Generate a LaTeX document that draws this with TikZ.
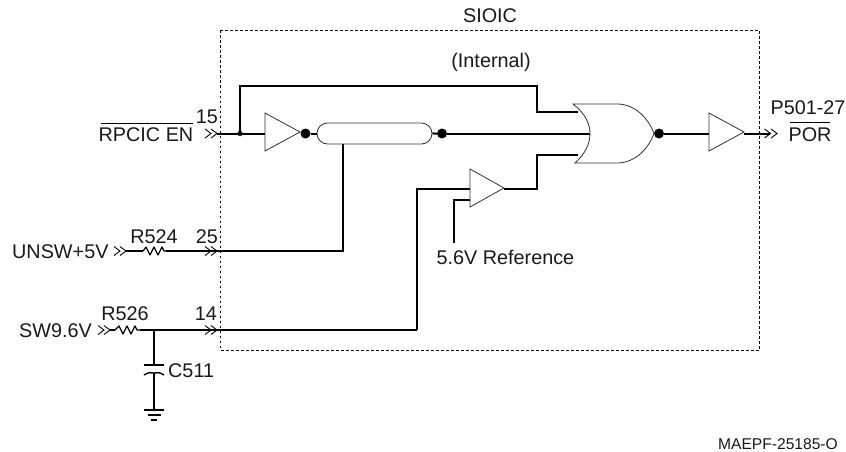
\documentclass[tikz,border=0pt]{standalone}
\usepackage{fontspec}
\setmainfont{Liberation Sans}
\usetikzlibrary{shapes.misc}
\tikzset{
  x=1pt,y=-1pt,
  wire/.style={line width=2pt,line join=miter},
  thin gate/.style={line width=0.8pt,draw=black!80,fill=white,line join=miter},
  chev/.style={line width=0.9pt},
  blob/.style={circle,fill=black,inner sep=0pt,minimum size=10pt},
  tiny blob/.style={circle,fill=black!85,inner sep=0pt,minimum size=5.5pt},
  lab/.style={font=\fontsize{19.8}{22}\selectfont,inner sep=0pt,text=black!90},
  pill/.style={rounded rectangle,draw=black!80,line width=0.8pt,fill=white,inner sep=0pt,minimum width=115pt,minimum height=21pt},
}
\newcommand{\chevron}[2]{\draw[chev] (#1-6,#2-4.5) -- (#1,#2) -- (#1-6,#2+4.5);}
\newcommand{\gatetri}[4]{% name, base x, apex x, mid y
  \coordinate (#1in) at (#2,#4);
  \coordinate (#1out) at (#3,#4);
  \draw[thin gate] (#2,#4-19) -- (#3,#4) -- (#2,#4+19) -- cycle;
}
\begin{document}
\begin{tikzpicture}
\useasboundingbox (0,0) rectangle (846,452);
% SIOIC box
\draw[line width=0.8pt,dash pattern=on 2.5pt off 2.5pt] (220.5,30.5) rectangle (759.5,350);

% terminals
\coordinate (t15) at (217,133.5);
\coordinate (t25) at (217,251);
\coordinate (t14) at (217,330);
\coordinate (tout) at (770,133.5);
\coordinate (r1a) at (143,251);
\coordinate (r1b) at (166,251);
\coordinate (r2a) at (115,330);
\coordinate (r2b) at (140,330);
\coordinate (c25) at (126,251);
\coordinate (c14) at (110,330);
\coordinate (cap) at (154,330);
\coordinate (captop) at (154,365);
\coordinate (capbot) at (154,373);
\coordinate (gnd) at (154,410);
\coordinate (refin) at (470,200);
\coordinate (refend) at (454,243);

% wires
\node[tiny blob] (j1) at (240,133.5) {};
\node[blob] (d1) at (305.5,133.5) {};
\node[blob] (d2) at (442,133.5) {};
\node[blob] (d3) at (659,133.5) {};
\node[pill] (sw) at (374.5,133.5) {};
\coordinate (swb) at (342.7,144);
\coordinate (ora) at (578,112);
\coordinate (orb) at (590,133.5);
\coordinate (orc) at (578,155);

\draw[wire] (t15) -- (265,133.5);
\draw[wire] (j1.center) |- (537,86) |- (ora);
\draw[wire] (d1) -- (sw);
\draw[wire] (sw) -- (d2);
\draw[wire] (d2) -- (orb);
\draw[wire] (t25) -- (342.7,251) -- (swb);
\draw[wire] (416.5,330) -- (416.5,189) -- (470,189);
\draw[wire] (t14) -- (416.5,330);
\draw[wire] (c14) -- (r2a);
\draw[wire] (r2b) -- (t14);
\draw[wire] (504,189) -- (537,189) |- (orc);
\draw[line width=1.5pt] (refend) |- (refin);
\draw[wire] (d3) -- (709,133.5);
\draw[wire] (744,133.5) -- (tout);
\draw[wire] (c25) -- (r1a);
\draw[wire] (r1b) -- (t25);

% resistors
\draw[line width=1.2pt,line join=round] (r1a) -- ++(3,-4) -- ++(4,8) -- ++(4,-8) -- ++(4,8) -- ++(4,-8) -- ++(2,4) -- (r1b);
\draw[line width=1.2pt,line join=round] (r2a) -- ++(4,-4) -- ++(4,8) -- ++(4,-8) -- ++(4,8) -- ++(4,-8) -- ++(2,4) -- (r2b);

% capacitor and ground
\draw[wire] (cap) -- (captop);
\draw[wire] (capbot) -- (gnd);
\draw[line width=1.4pt] (144,365) -- (164,365);
\draw[line width=1.4pt] (144,375) .. controls (148,372.5) and (151,372) .. (capbot) .. controls (157,372) and (160,372.5) .. (164,375);
\draw[line width=1.4pt] (144,410) -- (164,410);
\draw[line width=1.4pt] (147.5,415) -- (160.5,415);
\draw[line width=1.4pt] (151,420) -- (157,420);

% chevrons
\chevron{211}{133.5}\chevron{217}{133.5}
\chevron{120}{251}\chevron{126}{251}
\chevron{211}{251}\chevron{217}{251}
\chevron{104}{330}\chevron{110}{330}
\chevron{211}{330}\chevron{217}{330}
\chevron{770.5}{133.5}\chevron{777}{133.5}

% gates
\gatetri{a}{265}{300}{132}
\gatetri{b}{470}{504}{188}
\gatetri{c}{709}{744}{132}
\draw[thin gate] (573,104) -- (617,104)
  .. controls (634,104) and (648,117) .. (654,133.5)
  .. controls (648,150) and (634,163) .. (617,163)
  -- (575,163)
  .. controls (585,154) and (590,144) .. (orb)
  .. controls (590,124) and (585,113) .. (573,104) -- cycle;

% labels
\node[lab,anchor=base] (l0) at (490,22.7) {SIOIC};
\node[lab,anchor=base] (l1) at (491,68) {(Internal)};
\node[lab,anchor=base] (l2) at (207,123) {15};
\node[lab,anchor=base east] (l3) at (193.5,141.7) {RPCIC EN};
\draw[line width=0.9pt] (101,123) -- (192.5,123);
\node[lab,anchor=base] (l4) at (207,243) {25};
\node[lab,anchor=base] (l5) at (154,243) {R524};
\node[lab,anchor=base west] (l6) at (12,258) {UNSW+5V};
\node[lab,anchor=base] (l7) at (125,320.5) {R526};
\node[lab,anchor=base] (l8) at (206,320.5) {14};
\node[lab,anchor=base west] (l9) at (19,337) {SW9.6V};
\node[lab,anchor=base west] (l10) at (168,377) {C511};
\node[lab,anchor=base west] (l11) at (436.5,264) {5.6V Reference};
\node[lab,anchor=base] (l12) at (808,114) {P501-27};
\node[lab,anchor=base] (l13) at (810,141.7) {POR};
\draw[line width=0.9pt] (790,122.3) -- (830,122.3);
\node[lab,anchor=base east,font=\fontsize{15.6}{18}\selectfont] (l14) at (838,449) {MAEPF-25185-O};
\end{tikzpicture}
\end{document}
